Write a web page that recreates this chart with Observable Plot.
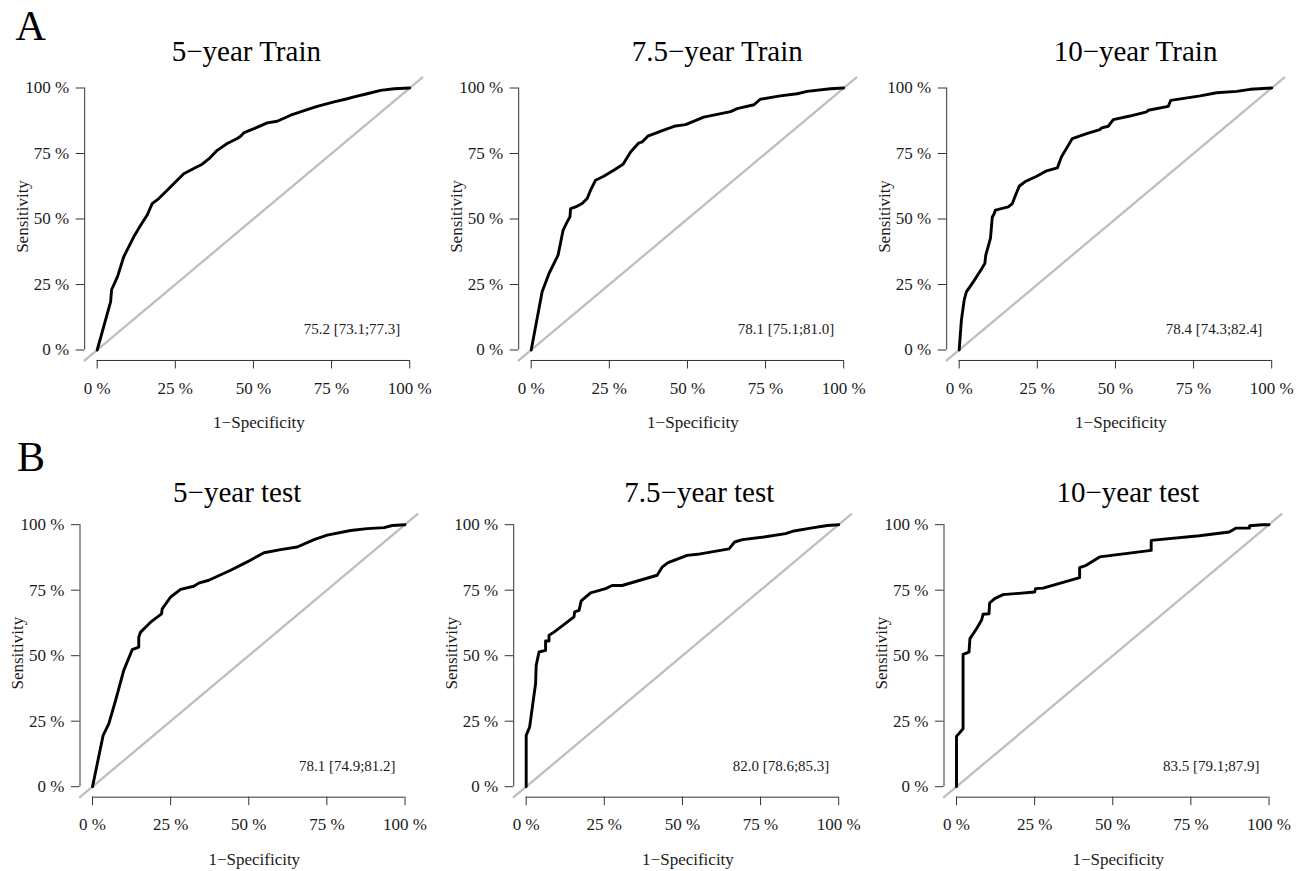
<!DOCTYPE html>
<html><head><meta charset="utf-8">
<script src="https://cdn.jsdelivr.net/npm/d3@7"></script>
<script src="https://cdn.jsdelivr.net/npm/@observablehq/plot@0.6"></script>
<style>
body{margin:0;background:#fff;}
#fig{position:relative;width:1306px;height:871px;overflow:hidden;background:#fff;}
#fig svg{position:absolute;}
</style></head><body><div id="fig"></div>
<script>
// ---------- data ----------
const titles = ["5−year Train","7.5−year Train","10−year Train","5−year test","7.5−year test","10−year test"];
const aucLabels = ["75.2 [73.1;77.3]","78.1 [75.1;81.0]","78.4 [74.3;82.4]","78.1 [74.9;81.2]","82.0 [78.6;85.3]","83.5 [79.1;87.9]"];
const panelLetters = ["A","B"];
const tickValues = [0,25,50,75,100];
const xLabel = "1−Specificity";
const yLabel = "Sensitivity";

// ROC curves: 1-specificity (%) and sensitivity (%)
const fpr5Train  = [0,4.3,4.6,6.5,8.5,11.7,13.9,16,16.9,17.6,19.7,22.4,25.6,27.7,30.9,33.6,35.8,38.4,41.6,44.8,45.9,47,50.2,54.4,57.6,61.9,67.2,70.4,75.8,80,82.2,86.4,90.7,95,100];
const sens5Train = [0,18.5,23,28,35.6,43.2,47.6,51.5,54,55.9,57.8,61,64.8,67.3,69.3,70.9,73,76.2,78.8,80.7,81.6,83,84.5,86.7,87.3,89.6,91.7,93,94.7,95.9,96.6,97.8,99.1,99.7,100];

const fpr75Train  = [0,3.5,5.7,8.6,10.2,11.5,12.4,12.6,14.2,16.3,17.9,19,20.6,23.2,26.4,29.4,31.8,34.4,35.5,37.3,42.4,46.2,49.4,55.2,63.8,65.9,71.3,73.3,79.7,85.1,88.3,95.7,100];
const sens75Train = [0,22.2,29.2,36.2,45.7,48.9,50.8,54,54.6,55.9,57.8,61,64.8,66.3,68.6,70.9,75.6,79,79.4,81.6,83.9,85.5,86,88.9,91,92.1,93.6,95.7,97,97.8,98.7,99.7,100];

const fpr10Train  = [0,0.7,1.6,2.3,4.5,6.6,8.2,8.5,10,10.6,11.1,11.6,15.7,17,17.8,19.2,21,24.8,28,31.4,32.7,34.9,36.2,40.8,45,45.6,47.7,49.3,54.6,60,60.5,66.9,67.7,77.1,82.4,88.8,93.1,100];
const sens10Train = [0,11.4,19.1,22.2,26,29.9,33,36.2,42.6,50.8,51.8,53.4,54.6,55.9,58.4,62.5,64.2,66.3,68.4,69.5,73.7,78.1,80.7,82.6,84.1,84.8,85.4,87.9,89.3,90.9,91.5,93,95.3,97,98.2,98.7,99.5,100];

const fpr5Test  = [0,3.4,5.2,7.4,10,12.7,14.8,14.8,15.4,18.6,22.1,22.3,25,28.2,32.4,34,37.2,44.2,49.5,54.9,60.2,65.5,70.9,75.1,82.6,87.9,93.3,95.9,100];
const sens5Test = [0,19.6,24,33,44.4,52.3,53.3,57.1,59,62.8,66,67.9,72.4,75.3,76.5,77.7,78.8,82.6,85.8,89.3,90.5,91.5,94.3,96,97.8,98.5,98.9,99.7,100];

const fpr75Test  = [0,0,1.1,1.9,3,3.2,4.1,6.2,6.2,7.3,7.3,8.9,15.3,15.5,16.9,17.6,20.6,25.4,27.5,30.7,41.9,43.5,45.4,51.5,54.8,64.9,66.7,69.2,76.1,83,85.7,91,96.4,100];
const sens75Test = [0,19.6,22.8,29.8,39.3,46.3,51.4,52,55.6,55.6,57.8,59,64.8,66.7,67.3,70.9,74,75.6,76.8,76.8,80.7,83.8,85.5,88.3,88.7,90.8,93.4,94.3,95.3,96.6,97.6,98.7,99.7,100];

const fpr10Test  = [0,0,2.1,2.1,4,4.3,6.4,8,8.5,10.4,10.6,12.2,14.9,25,25.3,27.7,39.4,39.4,41.5,45.8,62.3,62.3,77.7,87.3,89.5,93.8,93.8,97.9,100];
const sens10Test = [0,19.2,22.1,50.5,51.4,56.5,60.3,63.5,65.8,66,70.1,71.8,73.3,74.3,75.6,75.8,79.8,83.6,84.5,87.7,90.2,94,95.8,97.2,98.7,98.7,99.6,100,100];

const curves = [
  [fpr5Train, sens5Train], [fpr75Train, sens75Train], [fpr10Train, sens10Train],
  [fpr5Test, sens5Test], [fpr75Test, sens75Test], [fpr10Test, sens10Test]
];

// ---------- layout (page pixels) ----------
const W = 312.5, H = 262;       // pixel span of 0..100 %
const pad = 4;                  // R's 4% axis extension
const layout = [
  {left:0,   top:0,   width:434, height:435, x0:96.7,  y0:349.5, titleX:245.8,  titleBase:60.7, letter:{x:15, base:40}},
  {left:434, top:0,   width:432, height:435, x0:530.7, y0:349.5, titleX:716.7,  titleBase:60.7},
  {left:866, top:0,   width:440, height:435, x0:958.7, y0:349.5, titleX:1135,   titleBase:60.7},
  {left:0,   top:435, width:434, height:436, x0:92,    y0:786.2, titleX:236.7,  titleBase:501, letter:{x:16.5, base:470}},
  {left:434, top:435, width:432, height:436, x0:525.7, y0:786.2, titleX:698.8,  titleBase:501},
  {left:866, top:435, width:440, height:436, x0:956,   y0:786.2, titleX:1127.3, titleBase:501}
];
const aucPos = {x: 97, y: 8};
const font = "Liberation Serif, Times New Roman, serif";
const axisColor = "#333";
const textColor = "#1a1a1a";

const fig = document.getElementById("fig");
const dom = [tickValues[0] - pad, tickValues[tickValues.length-1] + pad];

layout.forEach((L, i) => {
  const frameLeft = L.x0 - pad/100*W, frameRight = L.x0 + (1+pad/100)*W;
  const frameTop = L.y0 - (1+pad/100)*H, frameBottom = L.y0 + pad/100*H;
  const frameCx = (frameLeft + frameRight)/2;
  const data = curves[i][0].map((x, k) => ({x, y: curves[i][1][k]}));
  const diag = dom.map(v => ({x: v, y: v}));
  const marks = [
    Plot.line(diag, {x:"x", y:"y", stroke:"#bebebe", strokeWidth:2.3}),
    Plot.ruleY([dom[0]], {x1: tickValues[0], x2: tickValues[tickValues.length-1], stroke: axisColor, strokeWidth:1}),
    Plot.ruleX([dom[0]], {y1: tickValues[0], y2: tickValues[tickValues.length-1], stroke: axisColor, strokeWidth:1}),
    Plot.axisX(tickValues, {anchor:"bottom", tickSize:8.5, tickPadding:12.7, tickFormat: d => d + " %", label:null, stroke: axisColor, fill: textColor, fontSize:17, fontFamily: font}),
    Plot.axisY(tickValues, {anchor:"left", tickSize:8.5, tickPadding:7, tickFormat: d => d + " %", label:null, stroke: axisColor, fill: textColor, fontSize:17, fontFamily: font}),
    Plot.line(data, {x:"x", y:"y", stroke:"black", strokeWidth:2.9, strokeLinejoin:"round", strokeLinecap:"round"}),
    Plot.text([aucLabels[i]], {x: () => aucPos.x, y: () => aucPos.y, textAnchor:"end", fontSize:15, fontFamily: font, fill: textColor}),
    Plot.text([titles[i]], {frameAnchor:"top", textAnchor:"middle", lineAnchor:"bottom", dx: L.titleX - frameCx, dy: L.titleBase - frameTop, fontSize:29, fontFamily: font, fill:"black"}),
    Plot.text([yLabel], {frameAnchor:"left", textAnchor:"middle", lineAnchor:"middle", rotate:-90, dx:-62.3, dy:-2.5, fontSize:17, fontFamily: font, fill: textColor}),
    Plot.text([xLabel], {frameAnchor:"bottom", textAnchor:"middle", lineAnchor:"middle", dx:5.5, dy:62.3, fontSize:17, fontFamily: font, fill: textColor})
  ];
  if (L.letter) {
    marks.push(Plot.text([panelLetters[i < 3 ? 0 : 1]], {frameAnchor:"top-left", textAnchor:"start", lineAnchor:"bottom",
      dx: L.letter.x - frameLeft, dy: L.letter.base - frameTop, fontSize:42, fontFamily: font, fill:"black"}));
  }
  const svg = Plot.plot({
    width: L.width, height: L.height,
    marginLeft: frameLeft - L.left,
    marginRight: L.left + L.width - frameRight,
    marginTop: frameTop - L.top,
    marginBottom: L.top + L.height - frameBottom,
    x: {domain: dom, axis: null},
    y: {domain: dom, axis: null},
    style: {fontFamily: font, fontSize: "17px", background: "transparent", color: textColor, overflow: "visible"},
    marks
  });
  svg.style.left = L.left + "px";
  svg.style.top = L.top + "px";
  fig.appendChild(svg);
});
</script></body></html>
